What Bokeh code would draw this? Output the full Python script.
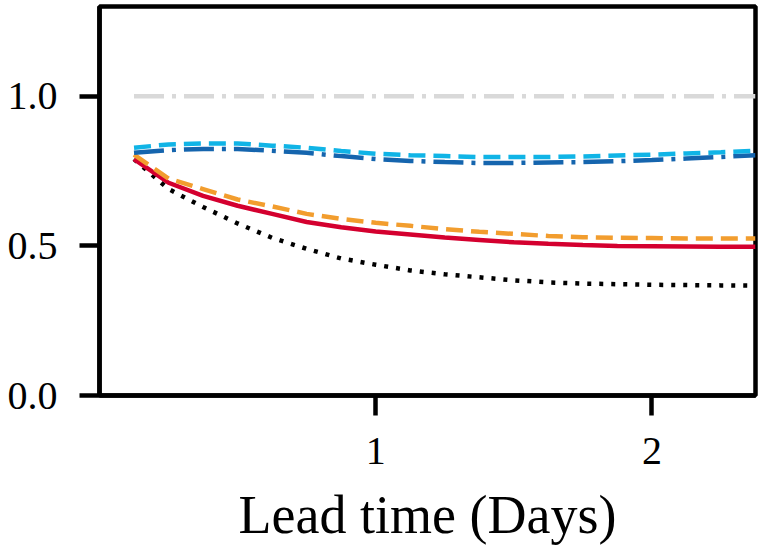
from bokeh.plotting import figure
from bokeh.embed import file_html
from bokeh.resources import INLINE
from bokeh.models import FixedTicker, Range1d, NumeralTickFormatter

# Lead time in days (3-hourly)
lead_days = [0.125, 0.25, 0.375, 0.5, 0.625, 0.75, 0.875, 1.0, 1.125, 1.25,
             1.375, 1.5, 1.625, 1.75, 1.875, 2.0, 2.125, 2.25, 2.375]

reference = [1.0] * len(lead_days)

light_blue = [0.828, 0.839, 0.842, 0.842, 0.835, 0.828, 0.817, 0.808, 0.803, 0.800,
              0.797, 0.797, 0.797, 0.799, 0.802, 0.805, 0.809, 0.813, 0.818]
dark_blue = [0.811, 0.820, 0.824, 0.824, 0.818, 0.811, 0.800, 0.790, 0.784, 0.780,
             0.777, 0.777, 0.779, 0.780, 0.783, 0.787, 0.792, 0.797, 0.803]
orange = [0.805, 0.725, 0.690, 0.655, 0.632, 0.607, 0.590, 0.577, 0.567, 0.556,
          0.547, 0.540, 0.533, 0.529, 0.527, 0.526, 0.525, 0.525, 0.525]
red = [0.790, 0.711, 0.667, 0.634, 0.607, 0.580, 0.562, 0.548, 0.538, 0.528,
       0.520, 0.512, 0.507, 0.503, 0.500, 0.499, 0.498, 0.497, 0.497]
black = [0.790, 0.690, 0.630, 0.575, 0.527, 0.490, 0.458, 0.437, 0.418, 0.405,
         0.395, 0.385, 0.378, 0.374, 0.372, 0.370, 0.369, 0.368, 0.367]

x_ticks = [1, 2]
y_ticks = [0.0, 0.5, 1.0]

FONT = "Liberation Serif"
LW = 4.5

p = figure(width=758, height=547, output_backend="svg", toolbar_location=None,
           x_range=Range1d(0, 2.375), y_range=Range1d(0, 1.3),
           min_border_left=99, min_border_right=3, min_border_top=6,
           min_border_bottom=0)

p.background_fill_color = "white"
p.border_fill_color = "white"
p.outline_line_color = "black"
p.outline_line_width = LW
p.xgrid.visible = False
p.ygrid.visible = False

p.line(lead_days, reference, line_color="#d9d9d9", line_width=LW, line_dash="30 8 4 8")
p.line(lead_days, black, line_color="black", line_width=LW, line_dash="4 8")
p.line(lead_days, red, line_color="#d4002f", line_width=LW)
p.line(lead_days, orange, line_color="#f29d2e", line_width=LW, line_dash="17 8")
p.line(lead_days, dark_blue, line_color="#1565ae", line_width=LW, line_dash="30 8 4 8")
p.line(lead_days, light_blue, line_color="#10b4e6", line_width=LW, line_dash="17 8")

for ax in (p.xaxis[0], p.yaxis[0]):
    ax.axis_line_width = LW
    ax.axis_line_color = "black"
    ax.major_tick_line_width = LW
    ax.major_tick_line_color = "black"
    ax.major_tick_in = 0
    ax.major_tick_out = 20
    ax.minor_tick_line_color = None
    ax.major_label_text_font = FONT
    ax.major_label_text_font_size = "40px"
    ax.major_label_text_color = "black"

p.xaxis.ticker = FixedTicker(ticks=x_ticks)
p.yaxis.ticker = FixedTicker(ticks=y_ticks)
p.yaxis.formatter = NumeralTickFormatter(format="0.0")
p.xaxis.major_label_standoff = 22
p.yaxis.major_label_standoff = 22

p.xaxis.axis_label = "Lead time (Days)"
p.xaxis.axis_label_text_font = FONT
p.xaxis.axis_label_text_font_size = "54px"
p.xaxis.axis_label_text_font_style = "normal"
p.xaxis.axis_label_text_color = "black"
p.xaxis.axis_label_standoff = 18

open("out.html", "w").write(file_html(p, INLINE))
